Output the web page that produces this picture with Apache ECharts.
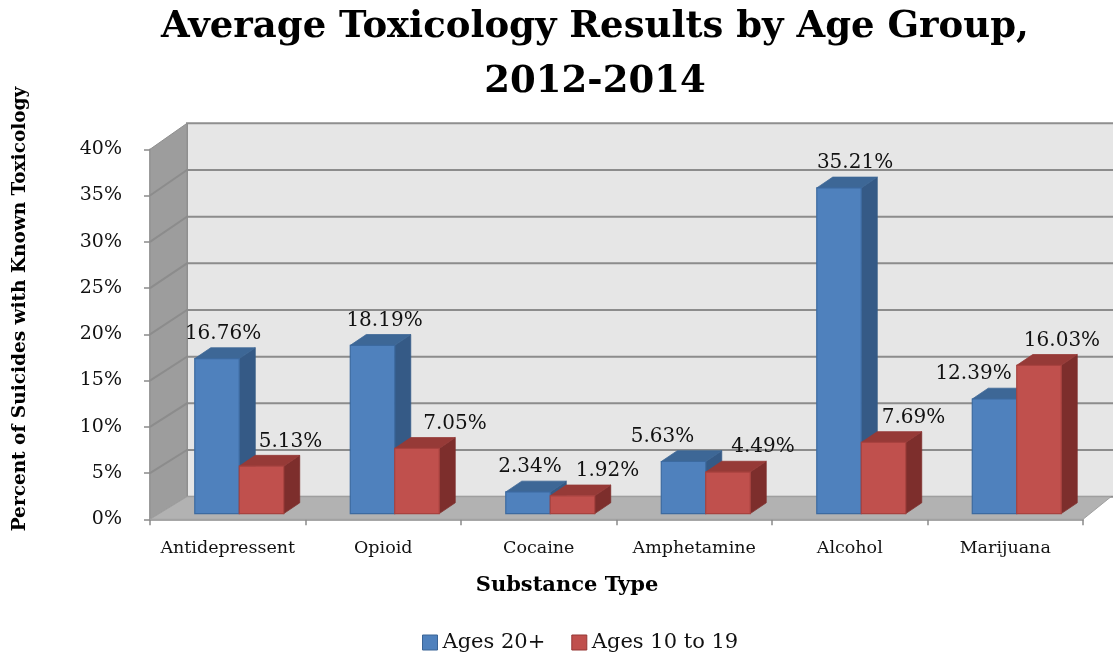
<!DOCTYPE html>
<html>
<head>
<meta charset="utf-8">
<script src="https://cdn.jsdelivr.net/npm/echarts@6/dist/echarts.min.js"></script>
<style>
  html, body { margin: 0; padding: 0; background: #ffffff; }
  #chart { width: 1113px; height: 653px; }
</style>
</head>
<body>
<div id="chart"></div>
<script>
// ---- data ----
const categories = ['Antidepressent', 'Opioid', 'Cocaine', 'Amphetamine', 'Alcohol', 'Marijuana'];
const ages20Plus = [16.76, 18.19, 2.34, 5.63, 35.21, 12.39];
const ages10to19 = [5.13, 7.05, 1.92, 4.49, 7.69, 16.03];
const seriesNames = ['Ages 20+', 'Ages 10 to 19'];
const Y_MIN = 0, Y_MAX = 40, Y_STEP = 5;

// horizontal nudges (px) for value labels so neighbouring labels stay apart
const labelNudge20 = [-2, 4, -6, -29, 8, -29];
const labelNudge10 = [21, 30, 27, 27, 22, 15];

// ---- styling ----
const SERIF = 'DejaVu Serif';
const WALL = { dxNear: 37, dxFar: 28, dyBottom: 22.6, dyTop: 26 }; // depth of the box
const BAR_SHIFT = [11.5, -5.7];   // bars stand a little behind the front axis plane
const BAR_DEPTH = [16, -10.8];    // extrusion of each bar
const BAR_WIDTH_RATIO = 0.286;
const BLUE = { front: '#4f81bd', top: '#3d6796', side: '#355a86', edge: '#3c6aa0' };
const RED = { front: '#c0504d', top: '#963a37', side: '#7d2e2c', edge: '#a8423f' };

// back wall, side wall, floor and the grid lines drawn on them
function renderChamber(params, api) {
  const band = api.size([1, 0])[0];
  const n = categories.length;
  const xL = api.coord([0, Y_MIN])[0] - band / 2;
  const xR = api.coord([n - 1, Y_MIN])[0] + band / 2;
  const y0 = api.coord([0, Y_MIN])[1];
  const yTop = api.coord([0, Y_MAX])[1];
  const back = (x, y) => {
    const fx = (x - xL) / (xR - xL);
    const fy = (y0 - y) / (y0 - yTop);
    return [
      x + WALL.dxNear + (WALL.dxFar - WALL.dxNear) * fx,
      y - (WALL.dyBottom + (WALL.dyTop - WALL.dyBottom) * fy)
    ];
  };
  const children = [];
  children.push({
    type: 'polygon',
    shape: { points: [back(xL, yTop), back(xR + 40, yTop), back(xR + 40, y0), back(xL, y0)] },
    style: { fill: '#e6e6e6', stroke: '#8f8f8f', lineWidth: 2 }
  });
  children.push({
    type: 'polygon',
    shape: { points: [[xL, yTop], back(xL, yTop), back(xL, y0), [xL, y0]] },
    style: { fill: '#9d9d9d', stroke: '#8f8f8f', lineWidth: 1 }
  });
  for (let v = Y_MIN + Y_STEP; v < Y_MAX; v += Y_STEP) {
    const y = api.coord([0, v])[1];
    children.push({
      type: 'polyline',
      shape: { points: [[xL, y], back(xL, y), back(xR + 40, y)] },
      style: { stroke: '#8c8c8c', lineWidth: 2, fill: null }
    });
  }
  children.push({
    type: 'polygon',
    shape: { points: [[xL, y0], back(xL, y0), back(xR, y0), [xR, y0]] },
    style: { fill: '#b2b2b2', stroke: '#a0a0a0', lineWidth: 1 }
  });
  return { type: 'group', children: children };
}

// one extruded bar with its value label
function barRenderer(palette, side, nudges) {
  return function (params, api) {
    const i = api.value(0);
    const v = api.value(1);
    const band = api.size([1, 0])[0];
    const w = band * BAR_WIDTH_RATIO;
    const base = api.coord([i, Y_MIN]);
    const top = api.coord([i, v]);
    const xc = base[0] + BAR_SHIFT[0];
    const x0 = side < 0 ? xc - w : xc;
    const x1 = x0 + w;
    const yB = base[1] + BAR_SHIFT[1];
    const yT = top[1] + BAR_SHIFT[1];
    const dx = BAR_DEPTH[0], dy = BAR_DEPTH[1];
    return {
      type: 'group',
      children: [
        {
          type: 'polygon',
          shape: { points: [[x1, yT], [x1 + dx, yT + dy], [x1 + dx, yB + dy], [x1, yB]] },
          style: { fill: palette.side, stroke: palette.side, lineWidth: 0.8 }
        },
        {
          type: 'polygon',
          shape: { points: [[x0, yT], [x1, yT], [x1 + dx, yT + dy], [x0 + dx, yT + dy]] },
          style: { fill: palette.top, stroke: palette.top, lineWidth: 0.8 }
        },
        {
          type: 'rect',
          shape: { x: x0, y: yT, width: w, height: yB - yT },
          style: { fill: palette.front, stroke: palette.edge, lineWidth: 1.2 }
        },
        {
          type: 'text',
          z2: 100,
          x: x0 + w / 2 + dx / 2 + nudges[i],
          y: yT + dy - 14,
          style: {
            text: v.toFixed(2) + '%',
            font: '20px "' + SERIF + '"',
            fill: '#111',
            align: 'center',
            verticalAlign: 'middle'
          }
        }
      ]
    };
  };
}

const chart = echarts.init(document.getElementById('chart'), null, { renderer: 'canvas' });

chart.setOption({
  animation: false,
  backgroundColor: '#ffffff',
  title: {
    text: 'Average Toxicology Results by Age Group,\n2012-2014',
    left: 590,
    top: -5,
    textAlign: 'center',
    textStyle: { fontFamily: SERIF, fontWeight: 'bold', fontSize: 37, lineHeight: 55, color: '#000' }
  },
  grid: { left: 150, right: 30, top: 149.3, bottom: 133.7 },
  xAxis: {
    type: 'category',
    data: categories,
    boundaryGap: true,
    axisLine: { show: true, lineStyle: { color: '#8a8a8a', width: 1.5 } },
    axisTick: { show: true, length: 6, lineStyle: { color: '#8a8a8a', width: 1.5 } },
    axisLabel: { interval: 0, margin: 20, fontFamily: SERIF, fontSize: 17.5, color: '#111' },
    splitLine: { show: false }
  },
  yAxis: {
    type: 'value',
    min: Y_MIN,
    max: Y_MAX,
    interval: Y_STEP,
    axisLine: { show: true, lineStyle: { color: '#8a8a8a', width: 1.5 } },
    axisTick: { show: true, length: 6, lineStyle: { color: '#8a8a8a', width: 1.5 } },
    axisLabel: { margin: 28, fontFamily: SERIF, fontSize: 19, color: '#111', formatter: '{value}%' },
    splitLine: { show: false }
  },
  legend: {
    data: [
      { name: seriesNames[0], itemStyle: { color: BLUE.front, borderColor: '#3a6496', borderWidth: 1 } },
      { name: seriesNames[1], itemStyle: { color: RED.front, borderColor: '#953735', borderWidth: 1 } }
    ],
    left: 417,
    top: 627,
    icon: 'rect',
    itemWidth: 15,
    itemHeight: 15,
    itemGap: 26,
    textStyle: { fontFamily: SERIF, fontSize: 21, color: '#111' }
  },
  graphic: [
    {
      type: 'text',
      x: 20,
      y: 309,
      rotation: Math.PI / 2,
      style: {
        text: 'Percent of Suicides with Known Toxicology',
        font: 'bold 18.5px "' + SERIF + '"',
        fill: '#000',
        align: 'center',
        verticalAlign: 'middle'
      }
    },
    {
      type: 'text',
      x: 567,
      y: 586,
      style: {
        text: 'Substance Type',
        font: 'bold 21px "' + SERIF + '"',
        fill: '#000',
        align: 'center',
        verticalAlign: 'middle'
      }
    }
  ],
  series: [
    {
      type: 'custom',
      name: 'chamber',
      silent: true,
      z: 1,
      renderItem: renderChamber,
      data: [[0, 0]]
    },
    {
      type: 'custom',
      name: seriesNames[0],
      z: 2,
      itemStyle: { color: BLUE.front },
      encode: { x: 0, y: 1 },
      renderItem: barRenderer(BLUE, -1, labelNudge20),
      data: ages20Plus.map((v, i) => [i, v])
    },
    {
      type: 'custom',
      name: seriesNames[1],
      z: 3,
      itemStyle: { color: RED.front },
      encode: { x: 0, y: 1 },
      renderItem: barRenderer(RED, 1, labelNudge10),
      data: ages10to19.map((v, i) => [i, v])
    }
  ]
});
</script>
</body>
</html>
